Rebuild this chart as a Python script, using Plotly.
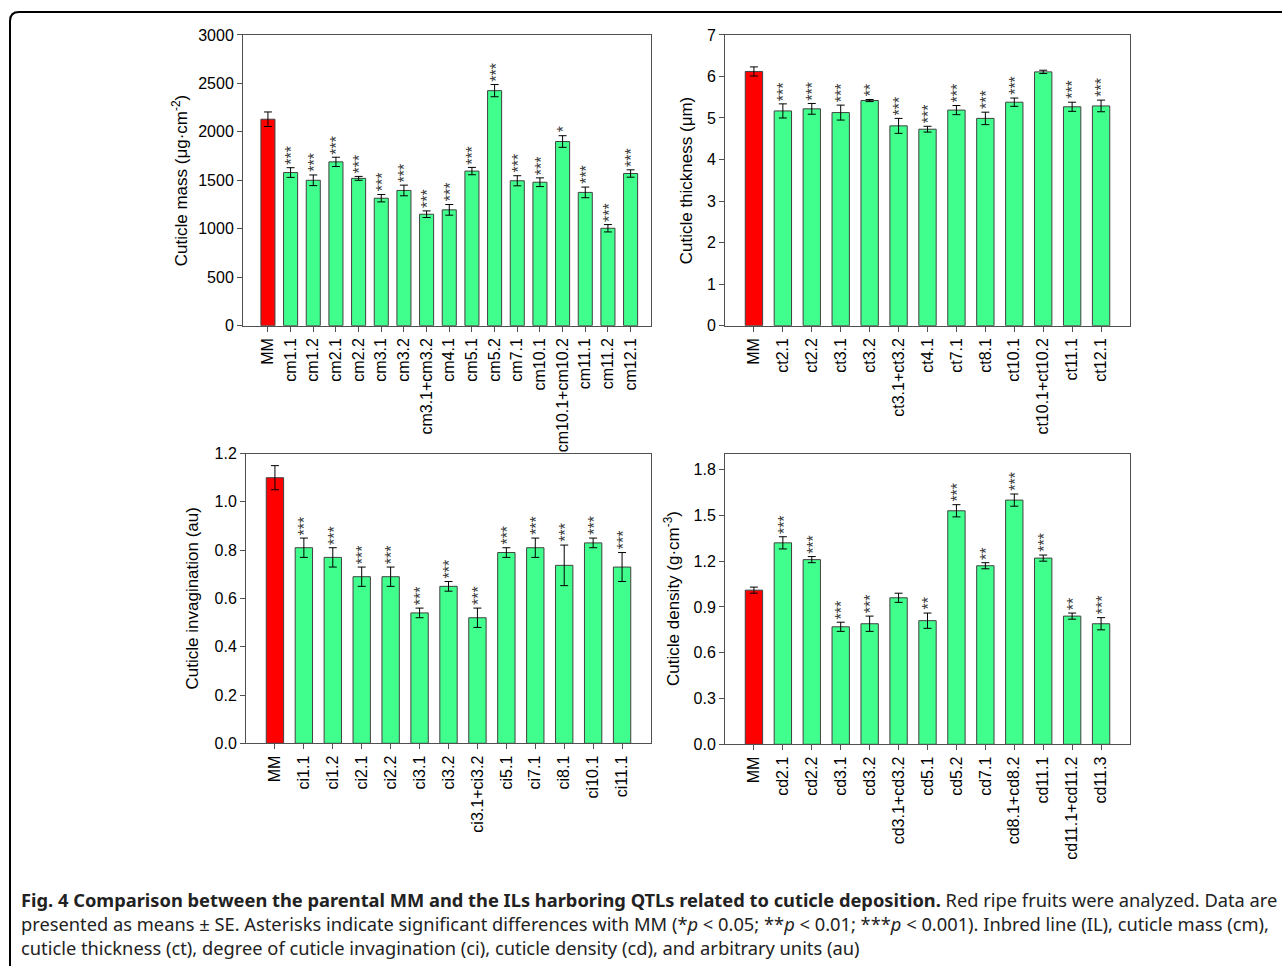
import plotly.graph_objects as go

W, H = 1282, 975
SQ = 0.9834   # vertical scale observed between figure pixels and the photographed page
OY = 8.2      # vertical page offset of the figure

# ---------------- data ----------------
cm_cats = ["MM", "cm1.1", "cm1.2", "cm2.1", "cm2.2", "cm3.1", "cm3.2", "cm3.1+cm3.2", "cm4.1",
           "cm5.1", "cm5.2", "cm7.1", "cm10.1", "cm10.1+cm10.2", "cm11.1", "cm11.2", "cm12.1"]
cm_vals = [2130, 1580, 1500, 1690, 1520, 1315, 1395, 1150, 1195, 1595, 2425, 1495, 1480, 1900, 1375, 1005, 1570]
cm_err = [75, 50, 55, 48, 20, 38, 55, 34, 55, 38, 63, 52, 45, 60, 55, 38, 38]
cm_sig = ["", "***", "***", "***", "***", "***", "***", "***", "***", "***", "***", "***", "***", "*", "***", "***", "***"]

ct_cats = ["MM", "ct2.1", "ct2.2", "ct3.1", "ct3.2", "ct3.1+ct3.2", "ct4.1", "ct7.1", "ct8.1",
           "ct10.1", "ct10.1+ct10.2", "ct11.1", "ct12.1"]
ct_vals = [6.12, 5.17, 5.22, 5.13, 5.42, 4.81, 4.73, 5.19, 4.99, 5.38, 6.11, 5.27, 5.29]
ct_err = [0.11, 0.17, 0.13, 0.18, 0.025, 0.18, 0.07, 0.11, 0.15, 0.10, 0.04, 0.11, 0.14]
ct_sig = ["", "***", "***", "***", "**", "***", "***", "***", "***", "***", "", "***", "***"]

ci_cats = ["MM", "ci1.1", "ci1.2", "ci2.1", "ci2.2", "ci3.1", "ci3.2", "ci3.1+ci3.2", "ci5.1",
           "ci7.1", "ci8.1", "ci10.1", "ci11.1"]
ci_vals = [1.10, 0.81, 0.77, 0.69, 0.69, 0.54, 0.65, 0.52, 0.79, 0.81, 0.737, 0.83, 0.73]
ci_err = [0.05, 0.04, 0.04, 0.04, 0.04, 0.02, 0.02, 0.04, 0.02, 0.04, 0.084, 0.02, 0.06]
ci_sig = ["", "***", "***", "***", "***", "***", "***", "***", "***", "***", "***", "***", "***"]

cd_cats = ["MM", "cd2.1", "cd2.2", "cd3.1", "cd3.2", "cd3.1+cd3.2", "cd5.1", "cd5.2", "cd7.1",
           "cd8.1+cd8.2", "cd11.1", "cd11.1+cd11.2", "cd11.3"]
cd_vals = [1.01, 1.32, 1.21, 0.77, 0.79, 0.96, 0.81, 1.53, 1.17, 1.60, 1.22, 0.84, 0.79]
cd_err = [0.02, 0.04, 0.02, 0.03, 0.05, 0.03, 0.05, 0.04, 0.02, 0.04, 0.02, 0.02, 0.04]
cd_sig = ["", "***", "***", "***", "***", "", "**", "***", "**", "***", "***", "**", "***"]

RED = "#FF0000"
GREEN = "#40FF8C"
OUTLINE = "#404040"
AX = "#505050"
FONT = "Arial, Liberation Sans, sans-serif"
TICK_SIZE = 16
TITLE_SIZE = 17

panels = [
    dict(cats=cm_cats, vals=cm_vals, err=cm_err, sig=cm_sig, xd=(243, 651), yd=(35, 326),
         xr=[-1.1, 16.9], yr=[0, 3000], dtick=500, fmt="d", bw=0.62,
         title="Cuticle mass (μg·cm<sup>-2</sup>)", tx=180),
    dict(cats=ct_cats, vals=ct_vals, err=ct_err, sig=ct_sig, xd=(725, 1130), yd=(35, 326),
         xr=[-1, 13], yr=[0, 7], dtick=1, fmt="d", bw=0.6,
         title="Cuticle thickness (μm)", tx=686),
    dict(cats=ci_cats, vals=ci_vals, err=ci_err, sig=ci_sig, xd=(246, 651), yd=(454, 744),
         xr=[-1, 13], yr=[0, 1.2], dtick=0.2, fmt=".1f", bw=0.6,
         title="Cuticle invagination (au)", tx=192),
    dict(cats=cd_cats, vals=cd_vals, err=cd_err, sig=cd_sig, xd=(725, 1130), yd=(454, 745),
         xr=[-1, 13], yr=[0, 1.905], dtick=0.3, fmt=".1f", bw=0.6,
         title="Cuticle density (g·cm<sup>-3</sup>)", tx=672),
]


def px(x):
    return x / W


def py(y):  # reference pixel row -> paper fraction
    f = y / SQ - OY
    return 1 - f / H


fig = go.Figure()
annotations = []
layout = dict()

for i, p in enumerate(panels):
    n = "" if i == 0 else str(i + 1)
    xa, ya = "x" + n, "y" + n
    colors = [RED] + [GREEN] * (len(p["cats"]) - 1)
    fig.add_trace(go.Bar(
        x=p["cats"], y=p["vals"], xaxis=xa, yaxis=ya, width=p["bw"],
        marker=dict(color=colors, line=dict(color=OUTLINE, width=1)),
        error_y=dict(type="data", array=p["err"], color="black", thickness=1, width=4),
        showlegend=False, hoverinfo="x+y",
    ))
    layout["xaxis" + n] = dict(
        domain=[px(p["xd"][0]), px(p["xd"][1])], anchor=ya, type="category",
        range=p["xr"], showline=True, mirror=True, linecolor=AX, linewidth=1,
        ticks="outside", ticklen=5, tickcolor=AX, tickangle=-90,
        tickfont=dict(family=FONT, size=TICK_SIZE, color="black"), showgrid=False, zeroline=False,
    )
    layout["yaxis" + n] = dict(
        domain=[py(p["yd"][1]), py(p["yd"][0])], anchor=xa,
        range=p["yr"], dtick=p["dtick"], tick0=0, tickformat=p["fmt"],
        showline=True, mirror=True, linecolor=AX, linewidth=1,
        ticks="outside", ticklen=5, tickcolor=AX,
        tickfont=dict(family=FONT, size=TICK_SIZE, color="black"), showgrid=False, zeroline=False,
    )
    # axis title
    annotations.append(dict(
        xref="paper", yref="paper", x=px(p["tx"]),
        y=py((p["yd"][0] + p["yd"][1]) / 2), text=p["title"], textangle=-90,
        showarrow=False, xanchor="center", yanchor="middle",
        font=dict(family=FONT, size=TITLE_SIZE, color="black"),
    ))
    # significance asterisks
    for c, v, e, s in zip(p["cats"], p["vals"], p["err"], p["sig"]):
        if s:
            annotations.append(dict(
                xref=xa, yref=ya, x=c, y=v + e, text=s, textangle=-90, showarrow=False,
                xanchor="center", yanchor="bottom", yshift=1, xshift=1,
                font=dict(family=FONT, size=16, color="#3a3a3a"),
            ))

# caption
CAP = "Noto Sans, sans-serif"
cap_lines = [
    ("<b>Fig. 4 Comparison between the parental MM and the ILs harboring QTLs related to cuticle deposition.</b>"
     " Red ripe fruits were analyzed. Data are", 900),
    ("presented as means ± SE. Asterisks indicate significant differences with MM (*<i>p</i> < 0.05; "
     "**<i>p</i> < 0.01; ***<i>p</i> < 0.001). Inbred line (IL), cuticle mass (cm),", 924),
    ("cuticle thickness (ct), degree of cuticle invagination (ci), cuticle density (cd), and arbitrary units (au)", 948),
]
for t, yy in cap_lines:
    annotations.append(dict(
        xref="paper", yref="paper", x=px(19), y=py(yy), text=t, showarrow=False,
        xanchor="left", yanchor="middle", font=dict(family=CAP, size=18.3, color="#222222"),
    ))

# rounded frame
r = 9
x0, y0 = 10, 12
path = (f"M {px(x0)},{py(1000)} L {px(x0)},{py(y0 + r)} "
        f"Q {px(x0)},{py(y0)} {px(x0 + r)},{py(y0)} L {px(W + 20)},{py(y0)}")

fig.update_layout(
    width=W, height=H, margin=dict(l=0, r=0, t=0, b=0),
    paper_bgcolor="white", plot_bgcolor="white",
    annotations=annotations, bargap=0.4,
    shapes=[dict(type="path", xref="paper", yref="paper", path=path,
                 line=dict(color="black", width=2))],
    **layout,
)

fig.write_html(
    "out.html",
    config={"displayModeBar": False},
    post_script="document.body.style.margin='0';document.documentElement.style.overflow='hidden';"
                "document.body.style.overflow='hidden';",
)
